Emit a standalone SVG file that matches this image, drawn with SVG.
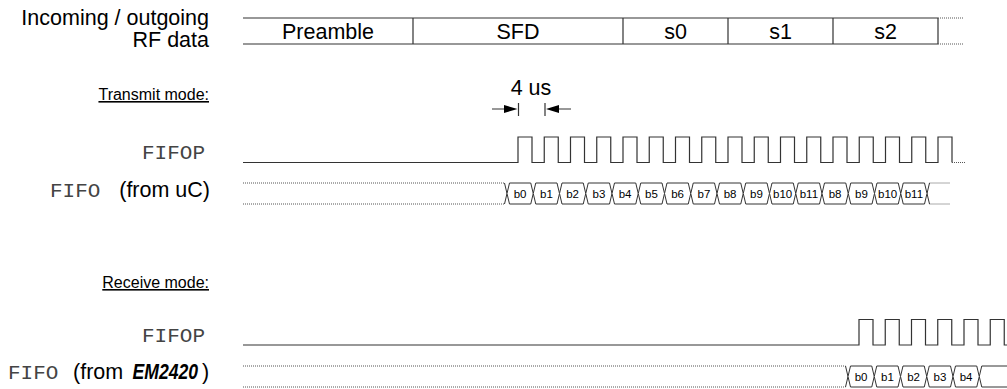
<svg xmlns="http://www.w3.org/2000/svg" xmlns:xlink="http://www.w3.org/1999/xlink" width="1007" height="389" viewBox="0 0 1007 389">
<style>
.sans{font-family:"Liberation Sans",Arial,sans-serif;font-size:21.5px;fill:#000}
.lbl{font-family:"Liberation Sans",Arial,sans-serif;font-size:16px;fill:#000;text-anchor:end;text-decoration:underline}
.mono{font-family:"Liberation Mono","Courier New",monospace;font-size:21px;fill:#444}
.em{font-family:"Liberation Sans",Arial,sans-serif;font-size:22px;font-weight:bold;font-style:italic;fill:#000}
.b{font-family:"Liberation Sans",Arial,sans-serif;font-size:11.5px;fill:#000;text-anchor:middle}
.end{text-anchor:end}
.mid{text-anchor:middle}
.ln{fill:none;stroke:#333;stroke-width:1.2}
.dot{fill:none;stroke:#555;stroke-width:1;stroke-dasharray:1 1}
.bus{fill:#fff;stroke:#333;stroke-width:1}
</style>
<defs>
<path id="box" d="M0,0 l2.5,-10.5 h21.25 l2.5,10.5 l-2.5,10.5 h-21.25 z"/>
</defs>

<g id="rf-data">
<text class="sans end" x="209" y="25">Incoming / outgoing</text>
<text class="sans end" x="209" y="47">RF data</text>
<path class="ln" d="M243,18 H938 M243,44 H938 M413,18 V44 M623,18 V44 M728,18 V44 M833,18 V44 M938,18 V44"/>
<path class="dot" d="M938,18 H964 M938,44 H964"/>
<text class="sans mid" x="328" y="39">Preamble</text>
<text class="sans mid" x="518" y="39">SFD</text>
<text class="sans mid" x="675.5" y="39">s0</text>
<text class="sans mid" x="780.5" y="39">s1</text>
<text class="sans mid" x="885.5" y="39">s2</text>
</g>

<g id="transmit-label">
<text class="lbl" x="209" y="100">Transmit mode:</text>
</g>

<g id="timing-4us">
<text class="sans mid" x="531" y="95">4 us</text>
<path class="ln" d="M492,109 H505 M518.5,103 V116 M545,103 V116 M559,109 H571"/>
<path d="M504,105 L517.5,109 L504,113 Z M546,109 L559,105 L559,113 Z" fill="#000"/>
</g>

<g id="tx-fifop">
<text class="mono end" x="205" y="159">FIFOP</text>
<path class="ln" d="M243,162.5 H518 v-25.5h14v25.5h12.25 v-25.5h14v25.5h12.25 v-25.5h14v25.5h12.25 v-25.5h14v25.5h12.25 v-25.5h14v25.5h12.25 v-25.5h14v25.5h12.25 v-25.5h14v25.5h12.25 v-25.5h14v25.5h12.25 v-25.5h14v25.5h12.25 v-25.5h14v25.5h12.25 v-25.5h14v25.5h12.25 v-25.5h14v25.5h12.25 v-25.5h14v25.5h12.25 v-25.5h14v25.5h12.25 v-25.5h14v25.5h12.25 v-25.5h14v25.5h12.25 v-25.5h14v25.5"/>
<path class="dot" d="M952,162.5 H965"/>
</g>

<g id="tx-fifo">
<text class="mono" x="50" y="197">FIFO</text>
<text class="sans end" x="210" y="197">(from uC)</text>
<path class="dot" d="M243,183 H504.5 M243,204 H504.5 M929.5,183 H950 M929.5,204 H950"/>
<path class="ln" style="stroke-width:1" d="M504.5,183 L507,193.5 L504.5,204 M929.5,183 L927,193.5 L929.5,204"/>
<use xlink:href="#box" class="bus" x="507" y="193.5"/>
<use xlink:href="#box" class="bus" x="533.25" y="193.5"/>
<use xlink:href="#box" class="bus" x="559.5" y="193.5"/>
<use xlink:href="#box" class="bus" x="585.75" y="193.5"/>
<use xlink:href="#box" class="bus" x="612" y="193.5"/>
<use xlink:href="#box" class="bus" x="638.25" y="193.5"/>
<use xlink:href="#box" class="bus" x="664.5" y="193.5"/>
<use xlink:href="#box" class="bus" x="690.75" y="193.5"/>
<use xlink:href="#box" class="bus" x="717" y="193.5"/>
<use xlink:href="#box" class="bus" x="743.25" y="193.5"/>
<use xlink:href="#box" class="bus" x="769.5" y="193.5"/>
<use xlink:href="#box" class="bus" x="795.75" y="193.5"/>
<use xlink:href="#box" class="bus" x="822" y="193.5"/>
<use xlink:href="#box" class="bus" x="848.25" y="193.5"/>
<use xlink:href="#box" class="bus" x="874.5" y="193.5"/>
<use xlink:href="#box" class="bus" x="900.75" y="193.5"/>
<text class="b" x="520.1" y="197.5">b0</text>
<text class="b" x="546.4" y="197.5">b1</text>
<text class="b" x="572.6" y="197.5">b2</text>
<text class="b" x="598.9" y="197.5">b3</text>
<text class="b" x="625.1" y="197.5">b4</text>
<text class="b" x="651.4" y="197.5">b5</text>
<text class="b" x="677.6" y="197.5">b6</text>
<text class="b" x="703.9" y="197.5">b7</text>
<text class="b" x="730.1" y="197.5">b8</text>
<text class="b" x="756.4" y="197.5">b9</text>
<text class="b" x="782.6" y="197.5">b10</text>
<text class="b" x="808.9" y="197.5">b11</text>
<text class="b" x="835.1" y="197.5">b8</text>
<text class="b" x="861.4" y="197.5">b9</text>
<text class="b" x="887.6" y="197.5">b10</text>
<text class="b" x="913.9" y="197.5">b11</text>
</g>

<g id="receive-label">
<text class="lbl" x="209" y="288">Receive mode:</text>
</g>

<g id="rx-fifop">
<text class="mono end" x="205" y="342">FIFOP</text>
<path class="ln" d="M243,345 H859 v-25.5h14v25.5h12.25 v-25.5h14v25.5h12.25 v-25.5h14v25.5h12.25 v-25.5h14v25.5h12.25 v-25.5h14v25.5h12.25 v-25.5h14v25.5 h3"/>
</g>

<g id="rx-fifo">
<text class="mono" x="8" y="379">FIFO</text>
<text class="sans" x="73" y="379">(from</text>
<text class="em" transform="translate(132.5 379) scale(0.8 1)">EM2420</text>
<text class="sans" x="202" y="379">)</text>
<path class="dot" d="M243,366 H845.5 M243,387 H845.5"/>
<path class="ln" style="stroke-width:1" d="M845.5,366 L848,376.5 L845.5,387 M1007,366 H981.75 L979.25,376.5 L981.75,387 H1007"/>
<use xlink:href="#box" class="bus" x="848" y="376.5"/>
<use xlink:href="#box" class="bus" x="874.25" y="376.5"/>
<use xlink:href="#box" class="bus" x="900.5" y="376.5"/>
<use xlink:href="#box" class="bus" x="926.75" y="376.5"/>
<use xlink:href="#box" class="bus" x="953" y="376.5"/>
<text class="b" x="861.1" y="380.5">b0</text>
<text class="b" x="887.4" y="380.5">b1</text>
<text class="b" x="913.6" y="380.5">b2</text>
<text class="b" x="939.9" y="380.5">b3</text>
<text class="b" x="966.1" y="380.5">b4</text>
</g>
</svg>
